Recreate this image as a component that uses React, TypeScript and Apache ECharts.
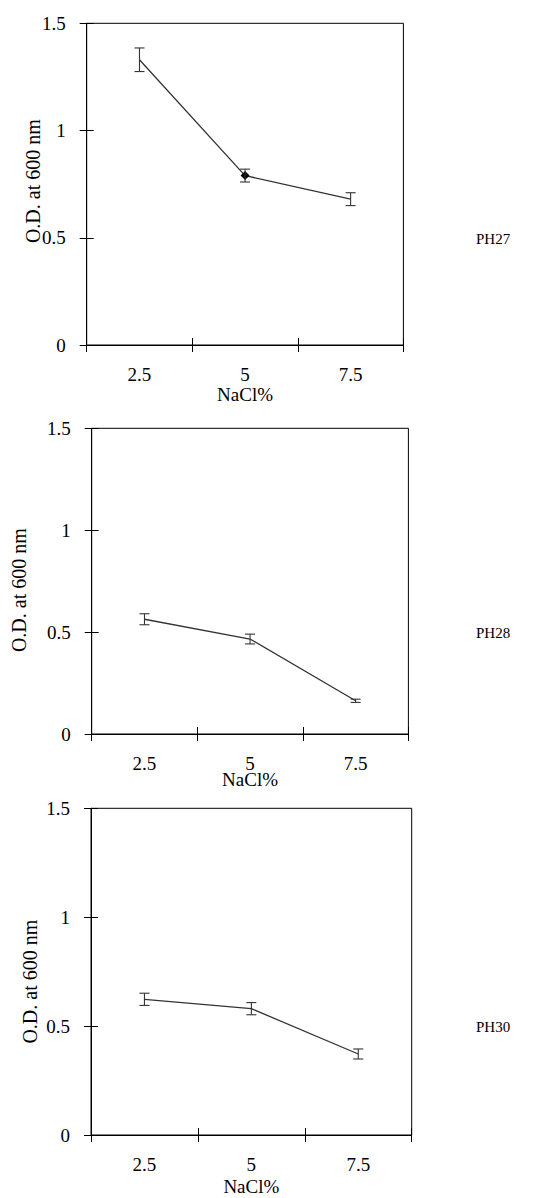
import React, { useEffect, useRef } from "react";
import * as echarts from "echarts";

// ---- data ----
const categories = ["2.5", "5", "7.5"];
const ph27Values = [1.33, 0.79, 0.68];
const ph27Errors = [0.055, 0.03, 0.03];
const ph28Values = [0.563, 0.466, 0.163];
const ph28Errors = [0.027, 0.024, 0.008];
const ph30Values = [0.623, 0.58, 0.372];
const ph30Errors = [0.028, 0.028, 0.023];
const panelNames = ["PH27", "PH28", "PH30"];
const xTitle = "NaCl%";
const yTitle = "O.D. at 600 nm";
const yMin = 0;
const yMax = 1.5;
const yStep = 0.5;

const FONT = "'Liberation Serif', 'Times New Roman', serif";
const INK = "#000";
const LINE = "#333";

const panels = [
  {
    values: ph27Values,
    errors: ph27Errors,
    grid: { left: 86.7, top: 23.3, width: 316.7, height: 321.7 },
    yNameGap: 44,
    yNamePad: [0, 0, 0, 6],
    xNameGap: 40,
    markerIndex: 1,
    label: { x: 476, y: 239 },
  },
  {
    values: ph28Values,
    errors: ph28Errors,
    grid: { left: 91.7, top: 428.3, width: 316.7, height: 305.7 },
    yNameGap: 63,
    yNamePad: [0, 18, 0, 0],
    xNameGap: 36,
    markerIndex: -1,
    label: { x: 476, y: 633 },
  },
  {
    values: ph30Values,
    errors: ph30Errors,
    grid: { left: 91, top: 808.3, width: 320.7, height: 326.7 },
    yNameGap: 51,
    yNamePad: [0, 20, 0, 0],
    xNameGap: 42,
    markerIndex: -1,
    label: { x: 476, y: 1027 },
  },
];

export default function App() {
  const ref = useRef<HTMLDivElement>(null);

  useEffect(() => {
    if (!ref.current) return;
    const chart = echarts.init(ref.current, null, { renderer: "svg" });

    const grid: any[] = [];
    const xAxis: any[] = [];
    const yAxis: any[] = [];
    const series: any[] = [];
    const graphic: any[] = [];

    panels.forEach((p, i) => {
      grid.push({
        ...p.grid,
        show: true,
        borderColor: INK,
        borderWidth: 1,
        backgroundColor: "transparent",
        containLabel: false,
      });
      // main x axis (outside ticks + labels)
      xAxis.push({
        type: "category",
        gridIndex: i,
        data: categories,
        boundaryGap: true,
        name: xTitle,
        nameLocation: "middle",
        nameGap: p.xNameGap,
        nameMoveOverlap: false,
        nameTextStyle: { fontFamily: FONT, fontSize: 19, color: INK },
        axisLine: { lineStyle: { color: INK, width: 1 } },
        axisTick: { show: true, inside: false, length: 7, lineStyle: { color: INK } },
        axisLabel: { fontFamily: FONT, fontSize: 19, color: INK, margin: 20 },
        splitLine: { show: false },
      });
      // inner tick companion
      xAxis.push({
        type: "category",
        gridIndex: i,
        data: categories,
        boundaryGap: true,
        position: "bottom",
        axisLine: { show: false },
        axisTick: { show: true, inside: true, length: 7, lineStyle: { color: INK } },
        axisLabel: { show: false },
        splitLine: { show: false },
      });
      yAxis.push({
        type: "value",
        gridIndex: i,
        min: yMin,
        max: yMax,
        interval: yStep,
        name: yTitle,
        nameLocation: "middle",
        nameGap: p.yNameGap,
        nameMoveOverlap: false,
        nameTextStyle: { fontFamily: FONT, fontSize: 20, color: INK, padding: p.yNamePad },
        axisLine: { show: true, lineStyle: { color: INK, width: 1 } },
        axisTick: { show: true, inside: false, length: 7, lineStyle: { color: INK } },
        axisLabel: { fontFamily: FONT, fontSize: 19, color: INK, margin: 21 },
        splitLine: { show: false },
      });
      yAxis.push({
        type: "value",
        gridIndex: i,
        min: yMin,
        max: yMax,
        interval: yStep,
        position: "left",
        axisLine: { show: false },
        axisTick: { show: true, inside: true, length: 7, lineStyle: { color: INK } },
        axisLabel: { show: false },
        splitLine: { show: false },
      });

      series.push({
        type: "line",
        xAxisIndex: i * 2,
        yAxisIndex: i * 2,
        symbol: "none",
        lineStyle: { color: LINE, width: 1.3 },
        itemStyle: { color: INK },
        data: p.values.map((v, k) =>
          k === p.markerIndex
            ? { value: v, symbol: "diamond", symbolSize: 9, itemStyle: { color: INK } }
            : { value: v, symbol: "none" }
        ),
        z: 3,
      });

      series.push({
        type: "custom",
        xAxisIndex: i * 2,
        yAxisIndex: i * 2,
        data: p.values.map((v, k) => [k, v, p.errors[k]]),
        renderItem: (params: any, api: any) => {
          const x = api.value(0);
          const v = api.value(1);
          const e = api.value(2);
          const top = api.coord([x, v + e]);
          const bot = api.coord([x, v - e]);
          const hw = 5;
          const style = { stroke: LINE, lineWidth: 1.1 };
          return {
            type: "group",
            children: [
              { type: "line", shape: { x1: top[0], y1: top[1], x2: bot[0], y2: bot[1] }, style },
              { type: "line", shape: { x1: top[0] - hw, y1: top[1], x2: top[0] + hw, y2: top[1] }, style },
              { type: "line", shape: { x1: bot[0] - hw, y1: bot[1], x2: bot[0] + hw, y2: bot[1] }, style },
            ],
          };
        },
        z: 4,
      });

      graphic.push({
        type: "text",
        x: p.label.x,
        y: p.label.y,
        style: {
          text: panelNames[i],
          font: `15px ${FONT}`,
          fill: INK,
          textAlign: "left",
          textVerticalAlign: "middle",
        },
      });
    });

    chart.setOption({
      animation: false,
      backgroundColor: "#fff",
      grid,
      xAxis,
      yAxis,
      series,
      graphic,
    });

    return () => chart.dispose();
  }, []);

  return (
    <div
      ref={ref}
      style={{ position: "absolute", left: 0, top: 0, width: 542, height: 1198 }}
    />
  );
}
